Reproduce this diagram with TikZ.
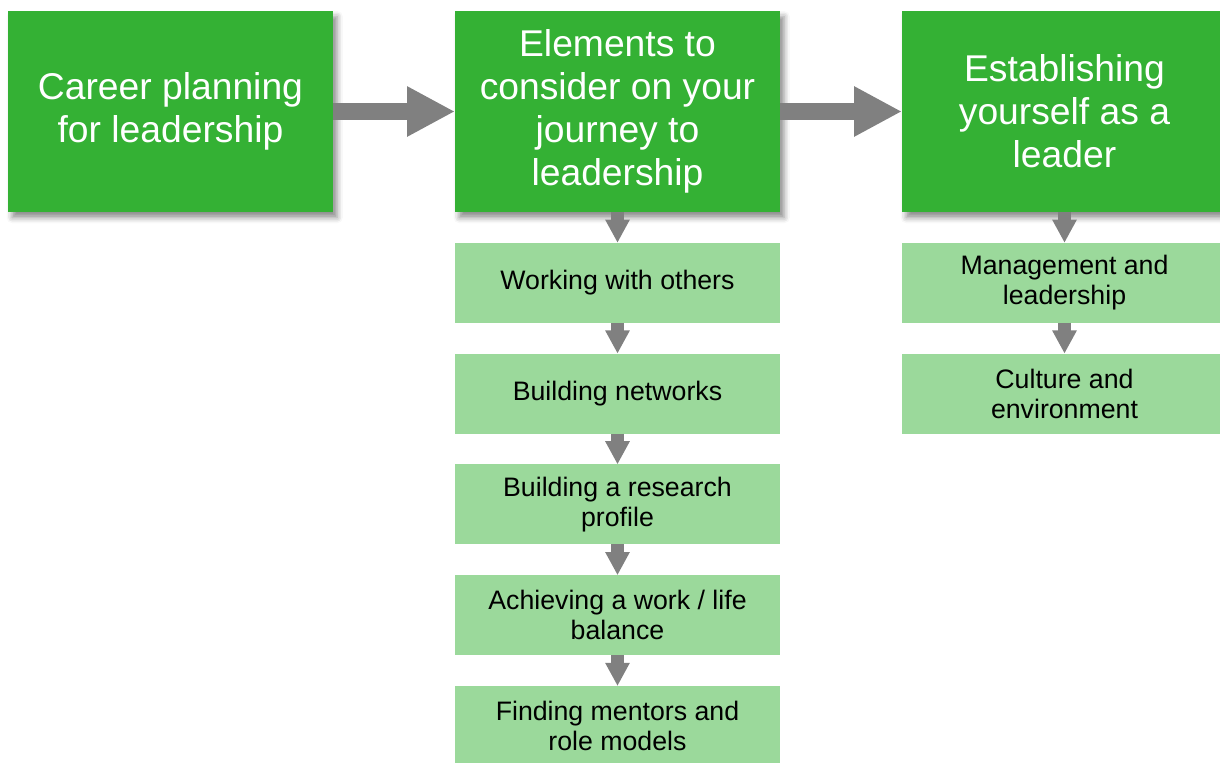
\documentclass[tikz,border=0pt]{standalone}
\usepackage{fontspec}
\setmainfont{Liberation Sans}
\usepackage{xcolor}
\usetikzlibrary{arrows.meta, positioning, shadows.blur}

\definecolor{darkgreen}{RGB}{52,177,52}
\definecolor{lightgreen}{RGB}{155,217,155}
\definecolor{arrowgray}{RGB}{128,128,128}

\begin{document}
\begin{tikzpicture}[
		% Defining box styles
		headbox/.style={
				rectangle,
				fill=darkgreen,
				text=white,
				inner sep=0pt,
				outer sep=0pt,
				minimum width=8.125cm,
				minimum height=5.025cm,
				align=center,
				font=\fontsize{26.5}{30.5}\selectfont,
				blur shadow={shadow xshift=3pt, shadow yshift=-4pt, shadow blur radius=4pt, shadow opacity=45}
			},
		stepbox/.style={
				rectangle,
				fill=lightgreen,
				text=black,
				inner sep=0pt,
				outer sep=0pt,
				minimum width=8.125cm,
				minimum height=2cm,
				align=center,
				font=\fontsize{19}{21.5}\selectfont
			},
		% Defining arrow styles
		bigarrow/.style={
				-{Triangle[length=1.2cm,width=1.175cm]},
				line width=0.425cm,
				draw=arrowgray
			},
		downarrow/.style={
				-{Triangle[length=0.58cm,width=0.575cm]},
				line width=0.325cm,
				draw=arrowgray
			},
		node distance=0.77cm and 3.05cm
		]

		\useasboundingbox (0,0) rectangle (30.5,-19.075);

		% Top row
		\node[headbox, anchor=north west] (career_title) at (0.2,-0.275) {Career planning\\for leadership};
		\node[headbox, right=of career_title] (elements_title) {Elements to\\consider on your\\journey to\\leadership};
		\node[headbox, right=of elements_title] (establish_title) {Establishing\\yourself as a\\leader};

		% Elements column
		\node[stepbox, below=of elements_title] (working_others) {Working with others};
		\node[stepbox, below=of working_others] (building_networks) {Building networks};
		\node[stepbox, below=of building_networks] (research_profile) {Building a research\\profile};
		\node[stepbox, below=of research_profile] (work_life) {Achieving a work / life\\balance};
		\node[stepbox, below=of work_life] (finding_mentors) {Finding mentors and\\role models};

		% Establishing column
		\node[stepbox, below=of establish_title] (management_leadership) {Management and\\leadership};
		\node[stepbox, below=of management_leadership] (culture_environment) {Culture and\\environment};

		% Drawing main flow arrows
		\draw[bigarrow] (career_title.east) -- (elements_title.west);
		\draw[bigarrow] (elements_title.east) -- (establish_title.west);

		% Drawing column arrows
		\draw[downarrow] (elements_title.south) -- (working_others.north);
		\draw[downarrow] (working_others.south) -- (building_networks.north);
		\draw[downarrow] (building_networks.south) -- (research_profile.north);
		\draw[downarrow] (research_profile.south) -- (work_life.north);
		\draw[downarrow] (work_life.south) -- (finding_mentors.north);
		\draw[downarrow] (establish_title.south) -- (management_leadership.north);
		\draw[downarrow] (management_leadership.south) -- (culture_environment.north);

	\end{tikzpicture}
\end{document}
